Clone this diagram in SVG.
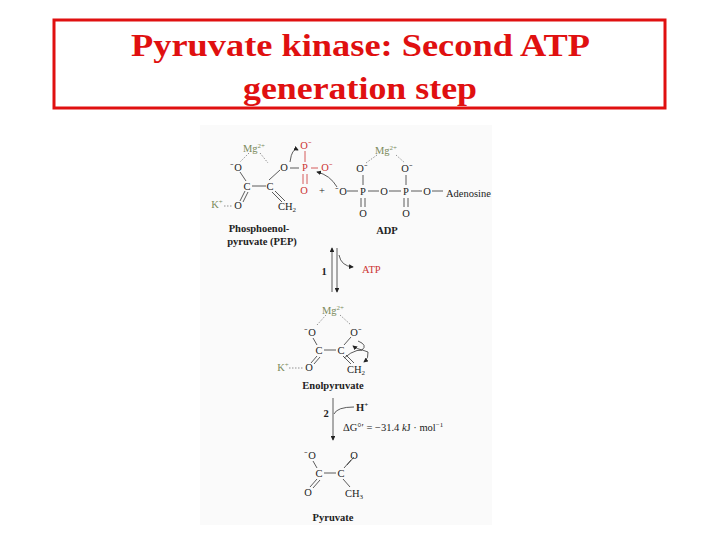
<svg xmlns="http://www.w3.org/2000/svg" width="720" height="540" viewBox="0 0 720 540">
<style>
.t{font-family:"Liberation Serif",serif;font-size:10.5px;fill:#222}
.s{font-size:7px}
.r{fill:#c33}
.g{fill:#7a8a5a}
.b{font-weight:bold}
.bd{stroke:#333;stroke-width:0.8;fill:none}
.rd{stroke:#c33;stroke-width:0.8;fill:none}
.dt{stroke:#666;stroke-width:0.7;stroke-dasharray:1.5 1.5;fill:none}
</style>
<defs><marker id="a" markerWidth="6" markerHeight="6" refX="5" refY="3" orient="auto"><path d="M0,0L6,3L0,6z" fill="#222"/></marker></defs>
<rect width="720" height="540" fill="#fff"/>
<g id="title">
<rect x="54" y="20" width="611" height="88" fill="#fff" stroke="#e01010" stroke-width="3"/>
<text x="131" y="56" textLength="459" lengthAdjust="spacingAndGlyphs" font-family="Liberation Serif,serif" font-size="32" font-weight="bold" fill="#e01010">Pyruvate kinase: Second ATP</text>
<text x="243" y="99" textLength="234" lengthAdjust="spacingAndGlyphs" font-family="Liberation Serif,serif" font-size="32" font-weight="bold" fill="#e01010">generation step</text>
</g>
<rect x="200" y="125" width="292" height="400" fill="#fafafa"/>
<g id="pep" text-anchor="middle">
<text class="t g" x="254" y="152">Mg<tspan class="s" dy="-4">2+</tspan></text>
<text class="t" x="236" y="171">⁻O</text>
<text class="t" x="284" y="171">O</text>
<text class="t r" x="305" y="171">P</text>
<text class="t r" x="306" y="149">O⁻</text>
<text class="t r" x="327" y="171">O⁻</text>
<text class="t r" x="304" y="194">O</text>
<text class="t" x="247" y="190">C</text>
<text class="t" x="270" y="190">C</text>
<text class="t g" x="217" y="208">K<tspan class="s" dy="-4">+</tspan></text>
<text class="t" x="238" y="209">O</text>
<text class="t" x="287" y="210">CH<tspan class="s" dy="2">2</tspan></text>
<text class="t b" x="259" y="232">Phosphoenol-</text>
<text class="t b" x="262" y="245">pyruvate (PEP)</text>
<path class="bd" d="M240,172L246,181M252,186L266,186M269,180L280,170M245,191L240,201M248,192L243,202M272,192L282,202M275,191L285,201M290,168L299,168"/>
<path class="rd" d="M305,162V151M311,168H318M303,174V184M307,174V184"/>
<path class="dt" d="M249,153L240,162M260,153L268,163M224,206H233"/>
<path class="bd" d="M290,162Q292,147 298,150" marker-end="url(#a)"/>
<path class="bd" d="M337,187Q330,175 317,172" marker-end="url(#a)"/>
</g>
<g id="adp" text-anchor="middle">
<text class="t" x="322" y="194">+</text>
<text class="t g" x="386" y="154">Mg<tspan class="s" dy="-4">2+</tspan></text>
<text class="t" x="362" y="172">O⁻</text>
<text class="t" x="407" y="172">O⁻</text>
<text class="t" x="341" y="195">⁻O</text>
<text class="t" x="363" y="195">P</text>
<text class="t" x="384" y="195">O</text>
<text class="t" x="406" y="195">P</text>
<text class="t" x="427" y="195">O</text>
<text class="t" x="446" y="197" text-anchor="start">Adenosine</text>
<text class="t" x="363" y="217">O</text>
<text class="t" x="406" y="217">O</text>
<text class="t b" x="387" y="234">ADP</text>
<path class="bd" d="M347,191H358M368,191H379M389,191H401M411,191H422M432,191H443M363,185V175M406,185V175M361,198V207M365,198V207M404,198V207M408,198V207"/>
<path class="dt" d="M377,155L366,163M396,155L405,163"/>
</g>
<g id="enol" text-anchor="middle">
<text class="t g" x="333" y="314">Mg<tspan class="s" dy="-4">2+</tspan></text>
<text class="t" x="310" y="336">⁻O</text>
<text class="t" x="356" y="336">O⁻</text>
<text class="t" x="319" y="354">C</text>
<text class="t" x="341" y="354">C</text>
<text class="t g" x="283" y="371">K<tspan class="s" dy="-4">+</tspan></text>
<text class="t" x="309" y="371">O</text>
<text class="t" x="356" y="373">CH<tspan class="s" dy="2">2</tspan></text>
<text class="t b" x="333" y="389">Enolpyruvate</text>
<path class="bd" d="M313,338L317,345M324,350H336M344,345L351,337M317,356L311,363M320,357L314,364M343,356L351,364M346,355L354,363"/>
<path class="dt" d="M326,315L317,325M340,315L351,325M289,368H304"/>
<path class="bd" d="M358,341Q368,345 362,350Q357,349 353,346" marker-end="url(#a)"/>
<path class="bd" d="M344,358Q358,346 368,352Q369,358 364,362" marker-end="url(#a)"/>
</g>
<g id="pyr" text-anchor="middle">
<text class="t" x="310" y="459">⁻O</text>
<text class="t" x="354" y="459">O</text>
<text class="t" x="319" y="477">C</text>
<text class="t" x="341" y="477">C</text>
<text class="t" x="308" y="496">O</text>
<text class="t" x="354" y="497">CH<tspan class="s" dy="2">3</tspan></text>
<text class="t b" x="333" y="521">Pyruvate</text>
<path class="bd" d="M313,461L317,468M324,473H336M344,468L351,460M347,465L354,457M317,479L310,487M320,480L313,488M343,479L350,487"/>
</g>
<g id="connectors">
<path class="bd" d="M332,292V248" marker-end="url(#a)"/>
<path class="bd" d="M337,248V292" marker-end="url(#a)"/>
<path class="bd" d="M339,255Q341,266 353,267" marker-end="url(#a)"/>
<text class="t r" x="362" y="273">ATP</text>
<text class="t b" x="324" y="275" text-anchor="middle">1</text>
<path class="bd" d="M333,398V440" marker-end="url(#a)"/>
<path class="bd" d="M334,414Q337,407 354,407"/>
<text class="t b" x="356" y="411">H<tspan class="s" dy="-4">+</tspan></text>
<text class="t b" x="326" y="417" text-anchor="middle">2</text>
<text class="t" x="343" y="431">ΔG°′ = −31.4 <tspan font-style="italic">k</tspan>J · mol<tspan class="s" dy="-4">−1</tspan></text>
</g>
</svg>
